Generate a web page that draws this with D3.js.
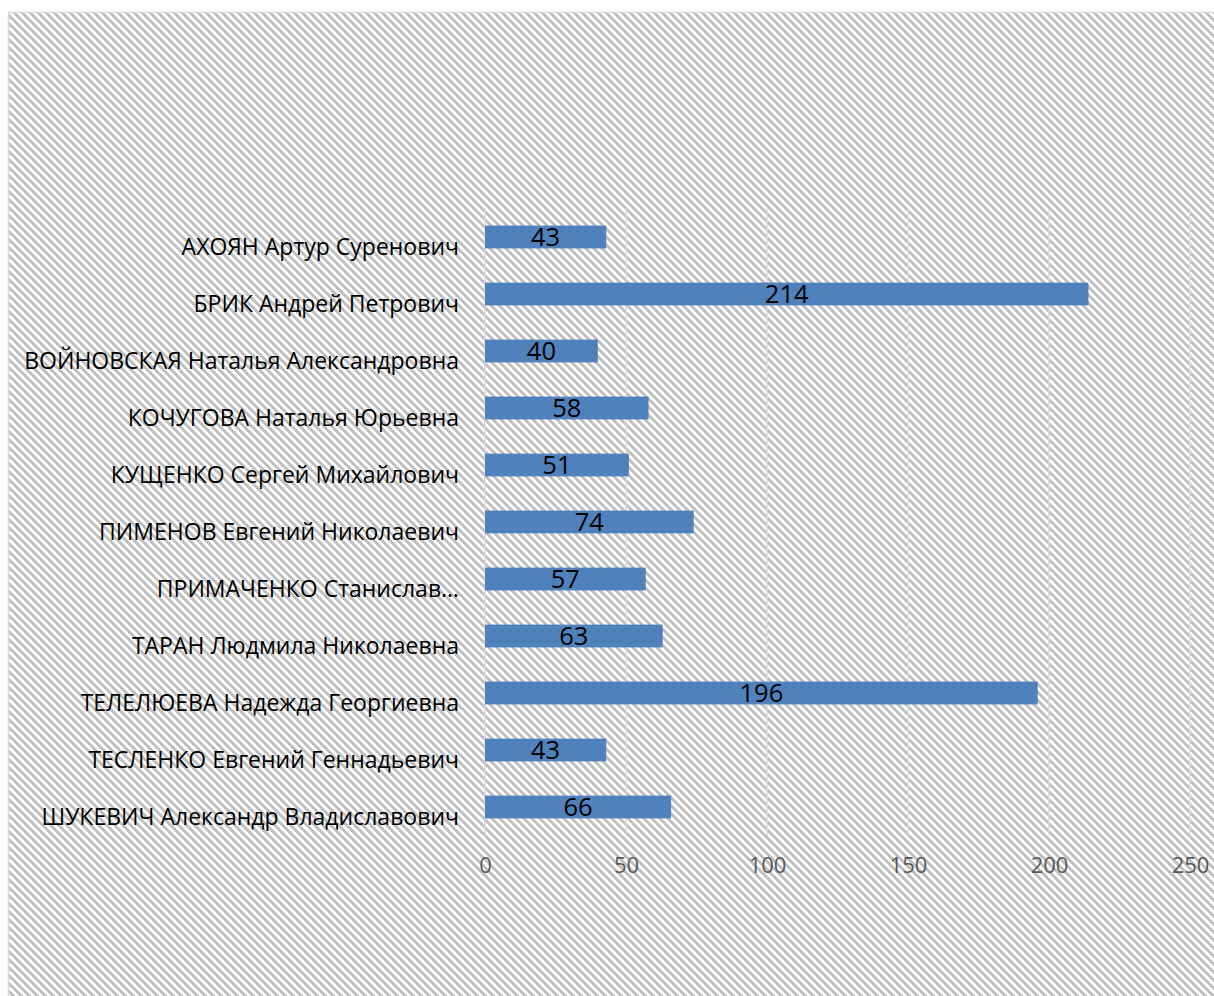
<!DOCTYPE html>
<html>
<head>
<meta charset="utf-8">
<script src="https://cdn.jsdelivr.net/npm/d3@7"></script>
<style>
  html, body { margin: 0; padding: 0; background: #fff; overflow: hidden; }
  svg { display: block; }
</style>
</head>
<body>
<svg id="chart" width="1214" height="996"></svg>
<script>
// Candidates and their counts
const names = [
  "АХОЯН Артур Суренович",
  "БРИК Андрей Петрович",
  "ВОЙНОВСКАЯ Наталья Александровна",
  "КОЧУГОВА Наталья Юрьевна",
  "КУЩЕНКО Сергей Михайлович",
  "ПИМЕНОВ Евгений Николаевич",
  "ПРИМАЧЕНКО Станислав…",
  "ТАРАН Людмила Николаевна",
  "ТЕЛЕЛЮЕВА Надежда Георгиевна",
  "ТЕСЛЕНКО Евгений Геннадьевич",
  "ШУКЕВИЧ Александр Владиславович"
];
const values = [43, 214, 40, 58, 51, 74, 57, 63, 196, 43, 66];
const ticks = [0, 50, 100, 150, 200, 250];

const svg = d3.select("#chart");
const font = "'Open Sans', 'Noto Sans', sans-serif";

// Hatched chart-area fill: wide downward diagonal stripes
const P = 8;
const defs = svg.append("defs");
const pat = defs.append("pattern")
  .attr("id", "hatch")
  .attr("patternUnits", "userSpaceOnUse")
  .attr("width", P).attr("height", P);
pat.append("rect").attr("width", P).attr("height", P).attr("fill", "#ffffff");
for (let r = 0; r < P; r++) {
  for (let k = 0; k < P / 2; k++) {
    pat.append("rect")
      .attr("x", (r + k) % P).attr("y", r)
      .attr("width", 1).attr("height", 1)
      .attr("fill", "#c0c0c0");
  }
}

svg.append("rect")
  .attr("x", 8.5).attr("y", 12.5)
  .attr("width", 1240).attr("height", 1020)
  .attr("fill", "url(#hatch)")
  .attr("stroke", "#d9d9d9").attr("stroke-width", 1.5);

const x = d3.scaleLinear().domain([0, 250]).range([485, 1190]);
const y = d3.scaleBand().domain(names).range([208.5, 835.5])
  .paddingInner(0.6).paddingOuter(0.3);
const [yTop, yBottom] = y.range();

// Vertical gridlines
svg.append("g").selectAll("line").data(ticks).join("line")
  .attr("x1", d => x(d)).attr("x2", d => x(d))
  .attr("y1", yTop).attr("y2", yBottom)
  .attr("stroke", "#d9d9d9").attr("stroke-width", 1.5);

// Bars
svg.append("g").selectAll("rect").data(values).join("rect")
  .attr("x", x(0))
  .attr("y", (d, i) => y(names[i]))
  .attr("width", d => x(d) - x(0))
  .attr("height", y.bandwidth())
  .attr("fill", "#4f81bd");

// Value labels inside bars
svg.append("g").selectAll("text").data(values).join("text")
  .attr("x", d => (x(0) + x(d)) / 2)
  .attr("y", (d, i) => y(names[i]) + y.bandwidth() / 2 + 9)
  .attr("text-anchor", "middle")
  .attr("font-family", font).attr("font-size", 25.5)
  .attr("fill", "#000")
  .text(d => d);

// Value axis
const xAxis = svg.append("g")
  .attr("transform", `translate(0,${yBottom})`)
  .call(d3.axisBottom(x).tickValues(ticks).tickSize(0).tickPadding(0));
xAxis.select(".domain").remove();
xAxis.selectAll("text")
  .attr("y", 37).attr("dy", null)
  .attr("font-family", font).attr("font-size", 22)
  .attr("fill", "#595959");

// Category axis
const yAxis = svg.append("g")
  .attr("transform", `translate(${x(0)},0)`)
  .call(d3.axisLeft(y).tickSize(0).tickPadding(26));
yAxis.select(".domain").remove();
yAxis.selectAll("text")
  .attr("dy", null).attr("y", 18)
  .attr("font-family", font).attr("font-size", 23)
  .attr("fill", "#000");
</script>
</body>
</html>
